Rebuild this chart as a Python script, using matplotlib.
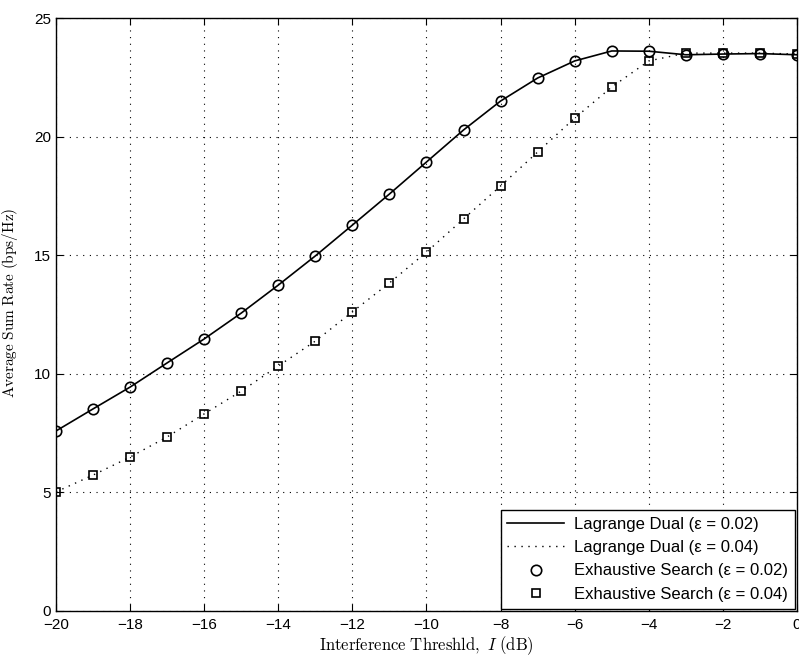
import numpy as np
import matplotlib
matplotlib.use('Agg')
import matplotlib.pyplot as plt

plt.rcParams['font.family'] = ['Liberation Sans', 'DejaVu Sans']
plt.rcParams['mathtext.fontset'] = 'cm'

# --- data ---
thresh_db = [-20, -19, -18, -17, -16, -15, -14, -13, -12, -11, -10,
             -9, -8, -7, -6, -5, -4, -3, -2, -1, 0]
rate_eps002 = [7.59, 8.52, 9.44, 10.46, 11.47, 12.56, 13.74, 14.97, 16.27, 17.58, 18.93,
               20.28, 21.50, 22.47, 23.19, 23.61, 23.60, 23.45, 23.48, 23.50, 23.45]
rate_eps004 = [5.02, 5.73, 6.49, 7.34, 8.31, 9.27, 10.33, 11.38, 12.61, 13.83, 15.13,
               16.53, 17.92, 19.35, 20.78, 22.09, 23.19, 23.52, 23.52, 23.52, 23.48]

fig = plt.figure(figsize=(7.99, 6.58), dpi=100)
ax = fig.add_axes([56 / 799, 1 - 611 / 658, 741 / 799, 593 / 658])

ax.plot(thresh_db, rate_eps002, '-', color='k', lw=1.2, label='Lagrange Dual (ε = 0.02)')
ax.plot(thresh_db, rate_eps004, color='k', lw=1.0, linestyle=(0, (1, 4)),
        label='Lagrange Dual (ε = 0.04)')
ax.plot(thresh_db, rate_eps002, 'o', mfc='none', mec='k', mew=1.2, ms=7.5,
        linestyle='None', label='Exhaustive Search (ε = 0.02)')
ax.plot(thresh_db, rate_eps004, 's', mfc='none', mec='k', mew=1.2, ms=6.3,
        linestyle='None', label='Exhaustive Search (ε = 0.04)')

ax.set_xlim(-20, 0)
ax.set_ylim(0, 25)
ax.set_xticks(np.arange(-20, 1, 2))
ax.set_yticks(np.arange(0, 26, 5))
ax.tick_params(direction='in', top=True, right=True, labelsize=11, length=5, width=0.8)
ax.tick_params(axis='x', pad=5)
ax.grid(True, color='k', lw=0.8, linestyle=(0, (1, 5)))
for s in ax.spines.values():
    s.set_linewidth(1.0)

ax.set_xlabel(r'$\mathrm{Interference\ Threshld,\ }I\mathrm{\ (dB)}$', fontsize=12, labelpad=2)
ax.set_ylabel(r'$\mathrm{Average\ Sum\ Rate\ (bps/Hz)}$', fontsize=11)
ax.yaxis.set_label_coords(-0.048, 0.52)

leg = ax.legend(loc='lower right', fontsize=12, handlelength=3.4, borderaxespad=0.15,
                fancybox=False, framealpha=1, edgecolor='k', labelspacing=0.5,
                handletextpad=0.6, borderpad=0.4)
leg.get_frame().set_linewidth(1.0)

fig.savefig('out.png', dpi=100)
